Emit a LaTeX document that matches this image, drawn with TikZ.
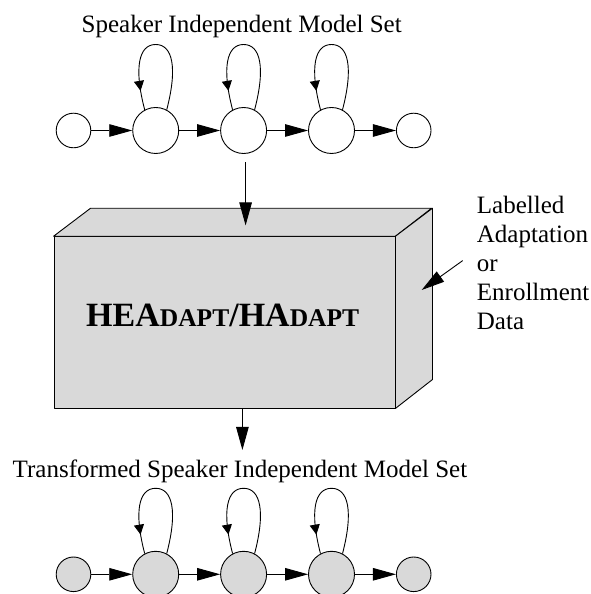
\documentclass[tikz,border=0pt]{standalone}
\usepackage{fontspec}
\setmainfont{Liberation Serif}
\usetikzlibrary{arrows.meta,positioning,decorations.markings}
\definecolor{Shade}{HTML}{D9D9D9}
\newcommand\smallcap[1]{{\fontsize{25.5}{25.5}\selectfont#1}}

\tikzset{
  big/.style={circle,draw,line width=.9pt,minimum size=46pt,inner sep=0pt},
  small/.style={circle,draw,line width=.9pt,minimum size=34.6pt,inner sep=0pt},
  arr/.style={-{Triangle[length=23pt,width=12.5pt]},line width=.9pt},
  selfloop/.style={line width=.9pt,postaction={decorate},
    decoration={markings,mark=at position .87 with {\arrow{Triangle[length=10pt,width=10pt]}}}},
  face/.style={draw,line width=.9pt,fill=Shade,line join=round},
  lbl/.style={font=\fontsize{25}{29}\selectfont,inner sep=0pt},
}

\begin{document}
\begin{tikzpicture}[x=1pt,y=1pt]
  \useasboundingbox (0,0) rectangle (591,594);

  % speaker independent models
  \node[lbl,anchor=base] (intitle) at (241.7,561) {Speaker Independent Model Set};
  \node[small] (s0) at (73.5,463.5) {};
  \node[big,right=41pt of s0] (b1) {};
  \node[big,right=41pt of b1] (b2) {};
  \node[big,right=41pt of b2] (b3) {};
  \node[small,right=41pt of b3] (s4) {};
  \draw[arr] (s0) -- (b1);
  \draw[arr] (b1) -- (b2);
  \draw[arr] (b2) -- (b3);
  \draw[arr] (b3) -- (s4);
  \draw[selfloop] (b1.62) .. controls +(11,42) and +(17,0) .. ([yshift=86pt]b1.center) .. controls +(-17,0) and +(-11,42) .. (b1.118);
  \draw[selfloop] (b2.62) .. controls +(11,42) and +(17,0) .. ([yshift=86pt]b2.center) .. controls +(-17,0) and +(-11,42) .. (b2.118);
  \draw[selfloop] (b3.62) .. controls +(11,42) and +(17,0) .. ([yshift=86pt]b3.center) .. controls +(-17,0) and +(-11,42) .. (b3.118);

  % the tool box
  \node[face,minimum width=341pt,minimum height=171.3pt,inner sep=0pt] (box) at (224.5,271.65) {};
  \draw[face] (box.north west) -- ++(37,28) -- ++(341,0) -- (box.north east) -- cycle;
  \draw[face] (box.north east) -- ++(37,28) -- ++(0,-171.3) -- (box.south east) -- cycle;
  \node[font=\fontsize{34}{34}\selectfont\bfseries,inner sep=0pt,anchor=base] (tool) at ([xshift=-1.8pt,yshift=-4.4pt]box.center) {HEA\smallcap{DAPT}/HA\smallcap{DAPT}};

  \coordinate (inpt) at ([xshift=2pt,yshift=-71.5pt]b2.south);
  \draw[arr] ([xshift=2pt,yshift=-8.5pt]b2.south) -- (inpt);

  % adaptation data
  \node[lbl,align=left,anchor=north west] (data) at (476.7,398.4) {Labelled\\Adaptation\\or\\Enrollment\\Data};
  \coordinate (datain) at (421.7,304);
  \draw[arr] ([xshift=-14pt,yshift=2pt]data.west) -- (datain);

  % transformed models
  \coordinate (outpt) at (242.4,144);
  \draw[arr] (box.south -| outpt) -- (outpt);
  \node[lbl,anchor=base] (outtitle) at (240,116) {Transformed Speaker Independent Model Set};
  \node[small,fill=Shade] (t0) at (73.5,19.7) {};
  \node[big,fill=Shade,right=41pt of t0] (u1) {};
  \node[big,fill=Shade,right=41pt of u1] (u2) {};
  \node[big,fill=Shade,right=41pt of u2] (u3) {};
  \node[small,fill=Shade,right=41pt of u3] (t4) {};
  \draw[arr] (t0) -- (u1);
  \draw[arr] (u1) -- (u2);
  \draw[arr] (u2) -- (u3);
  \draw[arr] (u3) -- (t4);
  \draw[selfloop] (u1.62) .. controls +(11,42) and +(17,0) .. ([yshift=86pt]u1.center) .. controls +(-17,0) and +(-11,42) .. (u1.118);
  \draw[selfloop] (u2.62) .. controls +(11,42) and +(17,0) .. ([yshift=86pt]u2.center) .. controls +(-17,0) and +(-11,42) .. (u2.118);
  \draw[selfloop] (u3.62) .. controls +(11,42) and +(17,0) .. ([yshift=86pt]u3.center) .. controls +(-17,0) and +(-11,42) .. (u3.118);
\end{tikzpicture}
\end{document}
